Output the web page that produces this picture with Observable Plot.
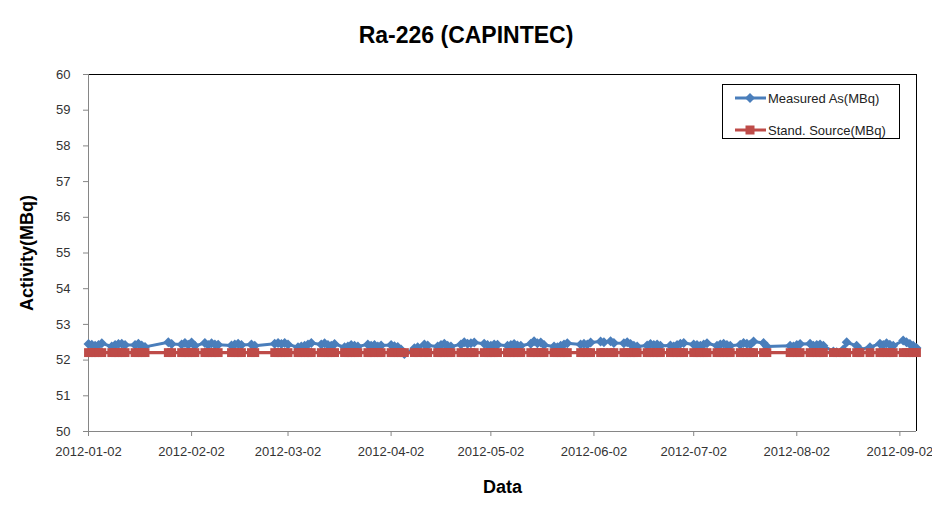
<!DOCTYPE html>
<html>
<head>
<meta charset="utf-8">
<script src="https://cdn.jsdelivr.net/npm/d3@7"></script>
<script src="https://cdn.jsdelivr.net/npm/@observablehq/plot@0.6"></script>
<style>
  body { margin: 0; background: #fff; }
  #wrap { position: relative; width: 932px; height: 517px; background: #fff; font-family: "Liberation Sans", Arial, sans-serif; overflow: hidden; }
  #title { position: absolute; left: 0; top: 20px; width: 932px; text-align: center; font-weight: bold; font-size: 23px; color: #000; line-height: 30px; }
  #chart { position: absolute; left: 0; top: 60px; }
  #legend { position: absolute; left: 722px; top: 84px; width: 178px; height: 55px; border: 1px solid #000; background: #fff; box-sizing: border-box; }
  .row { position: absolute; left: 12px; height: 20px; display: flex; align-items: center; font-size: 13px; color: #222; white-space: nowrap; }
  .row svg { margin-right: 2px; }
</style>
</head>
<body>
<div id="wrap">
  <div id="title">Ra-226 (CAPINTEC)</div>
  <div id="chart"></div>
  <div id="legend"></div>
</div>
<script>
const seriesNames = ["Measured As(MBq)", "Stand. Source(MBq)"];
const seriesColors = ["#4A7EBB", "#BE4B48"];

const dates = [
  "2012-01-02","2012-01-03","2012-01-04","2012-01-05","2012-01-06","2012-01-09","2012-01-10","2012-01-11","2012-01-12","2012-01-13","2012-01-16","2012-01-17","2012-01-18","2012-01-19","2012-01-26","2012-01-27","2012-01-30","2012-01-31",
  "2012-02-01","2012-02-02","2012-02-03","2012-02-06","2012-02-07","2012-02-08","2012-02-09","2012-02-10","2012-02-14","2012-02-15","2012-02-16","2012-02-17","2012-02-20","2012-02-21","2012-02-27","2012-02-28","2012-02-29",
  "2012-03-01","2012-03-02","2012-03-05","2012-03-06","2012-03-07","2012-03-08","2012-03-09","2012-03-12","2012-03-13","2012-03-14","2012-03-15","2012-03-16","2012-03-19","2012-03-20","2012-03-21","2012-03-22","2012-03-23","2012-03-26","2012-03-27","2012-03-28","2012-03-29","2012-03-30",
  "2012-04-02","2012-04-03","2012-04-04","2012-04-05","2012-04-06","2012-04-09","2012-04-10","2012-04-12","2012-04-13","2012-04-16","2012-04-17","2012-04-18","2012-04-19","2012-04-20","2012-04-23","2012-04-24","2012-04-25","2012-04-26","2012-04-27","2012-04-30",
  "2012-05-01","2012-05-02","2012-05-03","2012-05-04","2012-05-07","2012-05-08","2012-05-09","2012-05-10","2012-05-11","2012-05-14","2012-05-15","2012-05-16","2012-05-17","2012-05-18","2012-05-21","2012-05-22","2012-05-23","2012-05-24","2012-05-25","2012-05-29","2012-05-30","2012-05-31",
  "2012-06-01","2012-06-04","2012-06-05","2012-06-07","2012-06-08","2012-06-11","2012-06-12","2012-06-13","2012-06-14","2012-06-15","2012-06-18","2012-06-19","2012-06-20","2012-06-21","2012-06-22","2012-06-25","2012-06-26","2012-06-27","2012-06-28","2012-06-29",
  "2012-07-02","2012-07-03","2012-07-04","2012-07-05","2012-07-06","2012-07-09","2012-07-10","2012-07-11","2012-07-12","2012-07-13","2012-07-16","2012-07-17","2012-07-18","2012-07-19","2012-07-20","2012-07-23","2012-07-24","2012-07-31",
  "2012-08-01","2012-08-02","2012-08-03","2012-08-06","2012-08-07","2012-08-08","2012-08-09","2012-08-10","2012-08-13","2012-08-14","2012-08-16","2012-08-17","2012-08-20","2012-08-21","2012-08-24","2012-08-27","2012-08-28","2012-08-29","2012-08-30","2012-08-31",
  "2012-09-03","2012-09-04","2012-09-05","2012-09-06","2012-09-07"
];

const measured = [
  52.45,52.43,52.40,52.42,52.47,52.38,52.42,52.45,52.46,52.42,52.42,52.46,52.41,52.37,52.50,52.45,52.44,52.48,
  52.43,52.49,52.40,52.48,52.42,52.47,52.44,52.43,52.41,52.44,52.46,52.42,52.44,52.40,52.46,52.48,52.45,
  52.48,52.44,52.36,52.38,52.40,52.44,52.48,52.44,52.47,52.42,52.40,52.45,52.36,52.38,52.42,52.40,52.38,52.44,52.40,52.42,52.38,52.41,
  52.42,52.39,52.37,52.30,52.17,52.33,52.36,52.44,52.41,52.38,52.42,52.46,52.40,52.38,52.44,52.50,52.46,52.47,52.49,52.46,
  52.42,52.40,52.44,52.43,52.40,52.42,52.45,52.41,52.40,52.46,52.53,52.47,52.49,52.42,52.38,52.36,52.40,52.44,52.47,52.44,52.46,52.44,
  52.49,52.52,52.50,52.53,52.48,52.47,52.50,52.45,52.40,52.38,52.41,52.45,52.42,52.44,52.40,52.41,52.38,52.42,52.46,52.48,
  52.44,52.42,52.40,52.44,52.47,52.40,52.44,52.46,52.42,52.40,52.43,52.48,52.46,52.44,52.52,52.48,52.38,52.40,
  52.38,52.42,52.45,52.46,52.40,52.42,52.44,52.40,52.24,52.22,52.30,52.50,52.40,52.30,52.36,52.46,52.42,52.47,52.43,52.40,
  52.55,52.50,52.45,52.40,52.34
];

const standard = [
  52.21,52.21,52.21,52.21,52.21,52.21,52.21,52.21,52.21,52.21,52.21,52.21,52.21,52.21,52.21,52.21,52.21,52.21,
  52.21,52.21,52.21,52.21,52.21,52.21,52.21,52.21,52.21,52.21,52.21,52.21,52.21,52.21,52.21,52.21,52.21,
  52.21,52.21,52.21,52.21,52.21,52.21,52.21,52.21,52.21,52.21,52.21,52.21,52.21,52.21,52.21,52.21,52.21,52.21,52.21,52.21,52.21,52.21,
  52.21,52.21,52.21,52.21,52.21,52.21,52.21,52.21,52.21,52.21,52.21,52.21,52.21,52.21,52.21,52.21,52.21,52.21,52.21,52.21,
  52.21,52.21,52.21,52.21,52.21,52.21,52.21,52.21,52.21,52.21,52.21,52.21,52.21,52.21,52.21,52.21,52.21,52.21,52.21,52.21,52.21,52.21,
  52.21,52.21,52.21,52.21,52.21,52.21,52.21,52.21,52.21,52.21,52.21,52.21,52.21,52.21,52.21,52.21,52.21,52.21,52.21,52.21,
  52.21,52.21,52.21,52.21,52.21,52.21,52.21,52.21,52.21,52.21,52.21,52.21,52.21,52.21,52.21,52.21,52.21,52.21,
  52.21,52.21,52.21,52.21,52.21,52.21,52.21,52.21,52.21,52.21,52.21,52.21,52.21,52.21,52.21,52.21,52.21,52.21,52.21,52.21,
  52.21,52.21,52.21,52.21,52.21
];

const xTickLabels = ["2012-01-02","2012-02-02","2012-03-02","2012-04-02","2012-05-02","2012-06-02","2012-07-02","2012-08-02","2012-09-02"];
const yTickValues = [50,51,52,53,54,55,56,57,58,59,60];
const xDomain = ["2012-01-02","2012-09-07"];
const yDomain = [50, 60];
const titles = { x: "Data", y: "Activity(MBq)" };

const parse = d3.utcParse("%Y-%m-%d");
const fmt = d3.utcFormat("%Y-%m-%d");
const table = dates.map((d, i) => ({ date: parse(d), measured: measured[i], standard: standard[i] }));
const x0 = parse(xDomain[0]), x1 = parse(xDomain[1]);
const axisGray = "#868686";

const chart = Plot.plot({
  width: 932,
  height: 457,
  marginTop: 14,
  marginBottom: 86,
  marginLeft: 88,
  marginRight: 16,
  style: { fontFamily: "'Liberation Sans', Arial, sans-serif", fontSize: "13px", background: "transparent", overflow: "visible" },
  x: { type: "utc", domain: [x0, x1] },
  y: { domain: yDomain },
  marks: [
    Plot.ruleY([yDomain[1]], { stroke: "#000", strokeWidth: 1 }),
    Plot.ruleX([x1], { stroke: "#000", strokeWidth: 1 }),
    Plot.axisY({ ticks: yTickValues, tickSize: 5, tickPadding: 13, label: null, stroke: axisGray, fill: "#333", fontSize: 13 }),
    Plot.axisX({ ticks: xTickLabels.map(parse), tickFormat: fmt, tickSize: 5, tickPadding: 10, label: null, stroke: axisGray, fill: "#333", fontSize: 13 }),
    Plot.ruleX([x0], { stroke: axisGray, strokeWidth: 1 }),
    Plot.ruleY([yDomain[0]], { stroke: axisGray, strokeWidth: 1 }),
    Plot.line(table, { x: "date", y: "measured", stroke: seriesColors[0], strokeWidth: 3 }),
    Plot.dot(table, { x: "date", y: "measured", symbol: "diamond2", r: 4.5, fill: seriesColors[0], stroke: "none" }),
    Plot.line(table, { x: "date", y: "standard", stroke: seriesColors[1], strokeWidth: 3.2 }),
    Plot.dot(table, { x: "date", y: "standard", symbol: "square", r: 5, fill: seriesColors[1], stroke: "none" }),
    Plot.text([titles.y], { frameAnchor: "left", dx: -61, rotate: -90, textAnchor: "middle", lineAnchor: "middle", fontWeight: "bold", fontSize: 18, fill: "#000" }),
    Plot.text([titles.x], { frameAnchor: "bottom", dy: 56, textAnchor: "middle", lineAnchor: "middle", fontWeight: "bold", fontSize: 18, fill: "#000" })
  ]
});
document.getElementById("chart").appendChild(chart);

// legend
const legend = document.getElementById("legend");
const symbols = ["diamond", "square"];
seriesNames.forEach((name, i) => {
  const row = document.createElement("div");
  row.className = "row";
  row.style.top = (i === 0 ? 3 : 35) + "px";
  const c = seriesColors[i];
  const marker = symbols[i] === "diamond"
    ? `<path d="M15,5 L20,10 L15,15 L10,10 Z" fill="${c}"/>`
    : `<rect x="10.5" y="5.5" width="9" height="9" fill="${c}"/>`;
  row.innerHTML = `<svg width="31" height="20"><line x1="0" y1="10" x2="31" y2="10" stroke="${c}" stroke-width="3"/>${marker}</svg><span>${name}</span>`;
  legend.appendChild(row);
});
</script>
</body>
</html>
